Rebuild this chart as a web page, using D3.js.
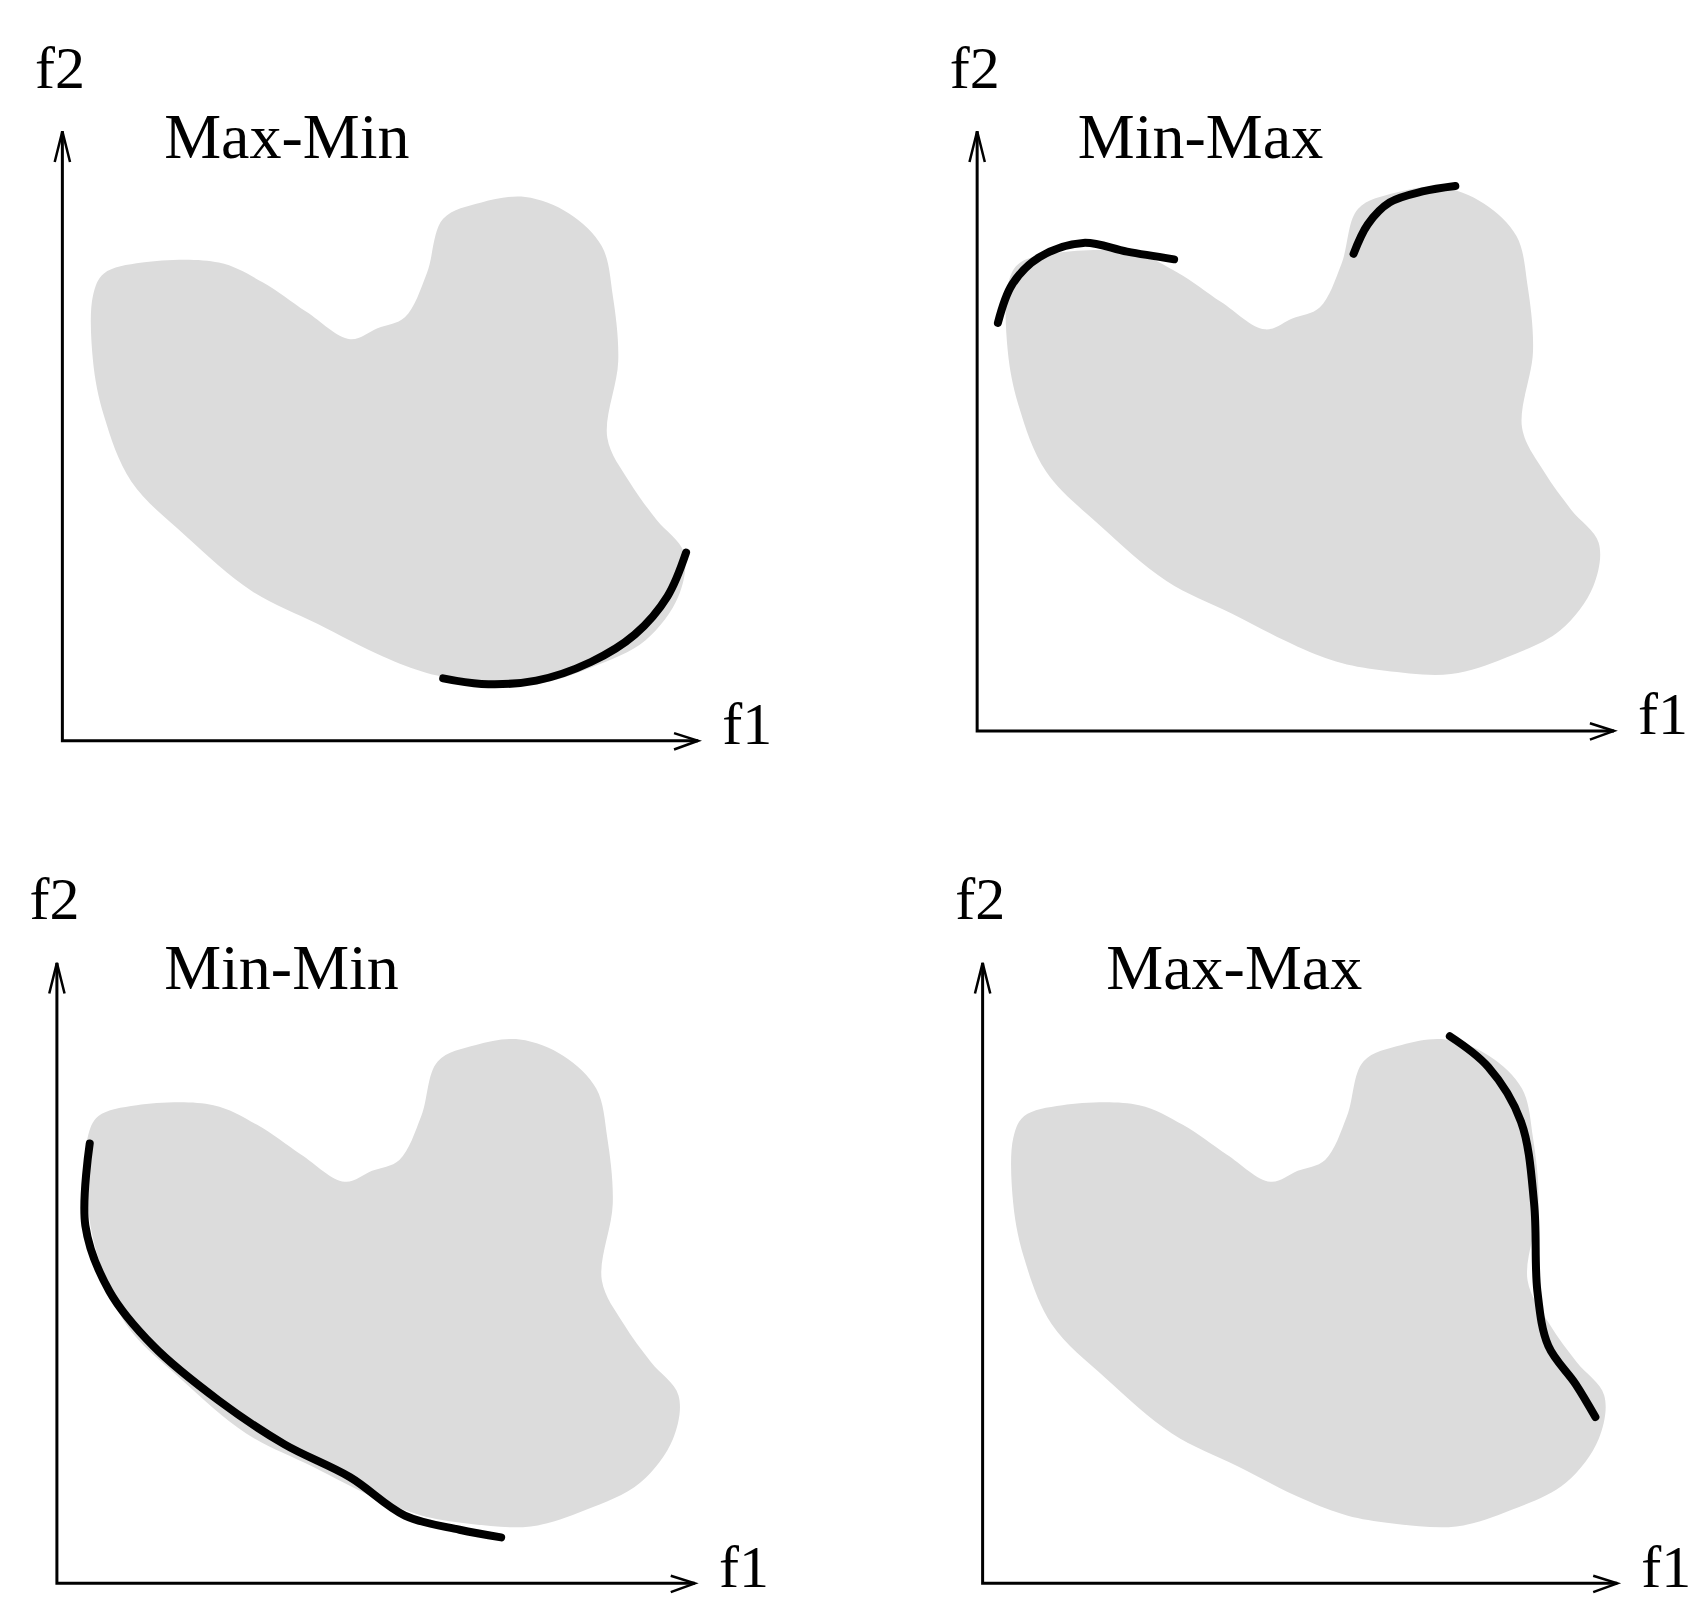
<!DOCTYPE html>
<html><head><meta charset="utf-8">
<script src="https://cdn.jsdelivr.net/npm/d3@7"></script>
<style>body{margin:0;background:#fff}svg{display:block}text{font-family:"Liberation Serif","DejaVu Serif",serif;fill:#000}</style>
</head><body><div id="chart"></div>
<script>
const panelTitles = ['Max-Min', 'Min-Max', 'Min-Min', 'Max-Max'];
// feasible region outline (f1, f2), same for all panels
const blob = [[28,407],[38,427],[73,437],[143,437],[183,419],[223,392],[263,367],[288,377],[313,387],[333,427],[348,477],[383,492],[423,497],[463,482],[493,452],[503,407],[508,347],[498,277],[518,237],[543,202],[568,172],[563,132],[533,92],[483,67],[433,52],[373,55],[333,62],[293,77],[233,107],[173,137],[113,187],[63,237],[38,297],[28,347]];
// highlighted front(s) per panel
const fronts = [
  [[[348,57],[383,52],[433,55],[483,72],[523,97],[553,132],[570,172]]],
  [[[19,373],[32,408],[57,433],[97,446],[137,438],[180,431]],
   [[344,436],[357,463],[377,483],[407,493],[437,498]]],
  [[[30,402],[26,327],[48,267],[88,217],[148,167],[208,127],[268,97],[318,62],[368,49],[406,42]]],
  [[[427,500],[462,472],[492,422],[504,347],[507,267],[517,217],[542,182],[560,152]]]
];
const axisLen = [[581,557],[582,548],[583,567],[580,567]];

const k = 1707 / 1560;
const origins = [[57,677],[893,668],[52,1447],[898,1447]].map(([x,y]) => [x*k, y*k]);

const svg = d3.select('#chart').append('svg').attr('width', 1707).attr('height', 1624);

panelTitles.forEach((title, i) => {
  const [ox, oy] = origins[i];
  const x = d3.scaleLinear().domain([0, 600]).range([ox, ox + 600*k]);
  const y = d3.scaleLinear().domain([0, 600]).range([oy, oy - 600*k]);
  const g = svg.append('g');
  const line = d3.line().x(d => x(d[0])).y(d => y(d[1]));

  g.append('path')
    .attr('d', line.curve(d3.curveCatmullRomClosed)(blob))
    .attr('fill', '#dcdcdc');

  fronts[i].forEach(f => {
    g.append('path')
      .attr('d', d3.line().x(d => x(d[0])).y(d => y(d[1])).curve(d3.curveCatmullRom)(f))
      .attr('fill', 'none').attr('stroke', '#000').attr('stroke-width', 8).attr('stroke-linecap', 'round');
  });

  const [lx, ly] = axisLen[i];
  const ax = g.append('g').attr('stroke', '#000').attr('stroke-width', 3).attr('fill', 'none');
  ax.append('path').attr('d', `M${x(0)},${y(ly)}V${y(0)}H${x(lx)}`);
  ax.append('path').attr('d', `M${x(-7)},${y(ly-28)}L${x(0)},${y(ly)}L${x(7)},${y(ly-28)}`).attr('stroke-width', 2.5);
  ax.append('path').attr('d', `M${x(lx-22)},${y(7)}L${x(lx)},${y(0)}L${x(lx-22)},${y(-8)}`).attr('stroke-width', 2.5);

  g.append('text').attr('x', x(-25)).attr('y', y(ly + 40)).attr('font-size', 60).text('f2');
  g.append('text').attr('x', x(lx + 22)).attr('y', y(-3)).attr('font-size', 60).text('f1');
  const tx = [93, 92, 98, 113][i];
  g.append('text').attr('x', x(tx)).attr('y', y(ly - 24)).attr('font-size', 64).text(title);
});
</script>
</body></html>
